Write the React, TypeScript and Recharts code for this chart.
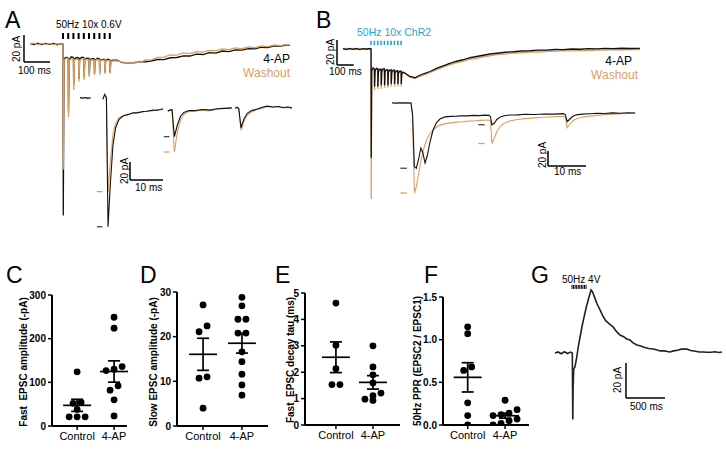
import React from 'react';
import { LineChart, Line, XAxis, YAxis, ReferenceLine, ScatterChart, Scatter } from 'recharts';

const FONT = '"Liberation Sans", Arial, Helvetica, sans-serif';
const BLACK = '#111111';
const ORANGE = '#d9a062';
const CYAN = '#2aa6cc';

// ---------------- Panel A : main trace (ms, pA) ----------------
const aT = [0, 15, 30, 45, 60, 75, 90, 105, 118, 126,
  127, 128, 131, 139, 147, 148, 151, 159, 167, 168, 171, 179, 187, 188, 191, 199, 207, 208, 211, 219,
  227, 228, 231, 239, 247, 248, 251, 259, 267, 268, 271, 279, 287, 288, 291, 299, 307, 308, 311, 319,
  335, 355, 375, 390, 405, 425, 445, 465, 490, 515, 540, 565, 590, 615, 640, 665, 690, 715, 740, 765,
  790, 815, 840, 865, 890, 915, 940, 965, 985, 1000];
const aWash = [0, 0.6, -0.4, 0.5, -0.3, 0.4, -0.5, 0.3, -0.2, 0.2,
  0.2, -93, -12, -10.5, -11, -54, -12.5, -10.8, -11, -34, -12, -11.2, -11.5, -28, -12.5, -11, -11, -26.7, -12, -11.4,
  -11.5, -24.4, -12.3, -11.8, -12, -23, -12.5, -11.5, -11.8, -23, -12.6, -12, -12, -22, -12.8, -12.2, -12.2, -22, -13, -12.5,
  -12.6, -13.5, -13.6, -14.5, -13.2, -13.4, -11.8, -11.9, -10.0, -9.8, -8.0, -8.3, -6.6, -7.2, -5.6, -6.0, -4.8, -4.9, -3.6, -4.2,
  -2.9, -3.5, -2.2, -2.7, -1.5, -2.0, -0.7, -1.2, -0.3, -0.6];
const a4AP = [0.3, -0.4, 0.6, -0.5, 0.4, -0.3, 0.5, -0.6, 0.3, 0,
  0, -127, -11, -9.8, -10.5, -50, -11.5, -9.5, -10, -31, -11, -10, -10.3, -26, -11.2, -9.8, -10, -24, -11.5, -10.5,
  -10.6, -23, -11.6, -10.8, -11, -22, -12, -10.6, -11, -21, -12, -11.5, -11.5, -21, -12.3, -11.2, -11.6, -21, -12.6, -12,
  -12.0, -13.8, -14.0, -14.2, -13.8, -13.0, -13.2, -12.6, -11.5, -11.6, -10.2, -10.0, -8.8, -8.9, -7.5, -7.8, -6.4, -6.8, -5.2, -5.6,
  -4.3, -4.5, -3.4, -3.6, -2.4, -2.7, -1.4, -1.6, -0.8, -0.9];
const aPulses = [127, 147, 167, 187, 207, 227, 247, 267, 287, 307];

// ---------------- Panel A : inset ----------------
const aInT = [0, 0.8, 1.6, 2.4, 3.2, 3.6,
  6.9, 7.5, 8.0, 8.5, 9.2, 10.0, 10.8, 11.8, 13, 14.5, 16, 17.5, 19, 20.5, 22, 23.5, 25.2, 25.8,
  26.6, 27.3, 27.9, 28.6, 29.5, 30.5, 31.5, 33, 35, 37, 39.4, 41.5, 43.5, 46, 46.5,
  47, 47.6, 48.1, 48.8, 49.7, 50.7, 52, 53.5, 55, 56.7, 58.5, 60, 61.5, 63, 64.2];
const aInWash = [0, 0.8, -0.5, 0.6, -0.3, null,
  -1, 3.5, 0, -104, -70, -40, -28, -22, -20, -18, -17.5, -15.5, -15.8, -14, -14.5, -12.8, -13, null,
  -15, -13, -14, -60, -38, -24, -18, -15, -14.5, -13.5, -14, -12.5, -12, -11.5, null,
  -11, -10, -12, -36, -26, -19, -15.5, -13, -11.5, -9.5, -10.5, -9.5, -11, -10.5, -11.5];
const aIn4AP = [0.4, -0.3, 0.5, -0.4, 0.3, null,
  -1.5, 4, 0.5, -143, -95, -52, -33, -24, -20, -18.5, -16.5, -16.5, -15, -14.8, -13.5, -13.6, -12, null,
  -14.5, -13.5, -13, -43, -30, -20, -16, -14, -14, -12.8, -13.5, -12, -11.5, -11, null,
  -11.5, -10.5, -11.5, -33, -23, -17, -14, -12.5, -10.5, -9, -10, -9.5, -10.5, -10, -11];
const aInPulses = [8.2, 28.5];

// ---------------- Panel B : main trace ----------------
const bT = [0, 20, 40, 60, 80, 100, 120, 140, 160, 167,
  168, 169, 172, 180, 188, 189, 192, 200, 208, 209, 212, 220, 228, 229, 232, 240, 248, 249, 252, 260,
  268, 269, 272, 280, 288, 289, 292, 300, 308, 309, 312, 320, 328, 329, 332, 340, 348, 349, 352, 360,
  380, 400, 431, 460, 490, 521, 560, 600, 640, 680, 719, 760, 800, 840, 880, 922, 970, 1020, 1070, 1120,
  1170, 1220, 1270, 1317, 1370, 1420, 1470, 1520, 1570, 1620, 1670, 1719, 1778];
const bWash = [0, 0.5, -0.4, 0.3, -0.5, 0.4, -0.3, 0.5, -0.2, 0,
  0, -120, -17, -15.5, -16.5, -33, -18, -16, -16.2, -32, -18.2, -16.8, -16.8, -32, -18.5, -16.5, -16.5, -31, -18.3, -17,
  -17, -31, -18.8, -17.2, -17, -30, -19, -17.5, -17.5, -30, -19.2, -17.8, -18, -30, -19.5, -18.2, -18.2, -30, -20, -19,
  -20.5, -22.5, -23.5, -22, -20.5, -19, -16.5, -14.5, -12.5, -11, -9.8, -8.2, -7.4, -6.2, -5.4, -4.5, -4, -3.2, -3, -2.4,
  -2.4, -1.8, -1.9, -1.3, -1.5, -1, -1.2, -0.8, -0.9, -0.5, -0.7, -0.4, -0.5];
const b4AP = [0.3, -0.4, 0.5, -0.3, 0.4, -0.5, 0.3, -0.2, 0.4, 0,
  0, -87, -17.5, -15, -16, -30, -17.5, -15.5, -15.8, -30, -17.8, -16.2, -16.2, -29, -18, -16, -16, -29, -17.8, -16.6,
  -16.5, -29, -18.2, -16.8, -16.6, -28, -18.5, -17, -17, -28, -18.8, -17.4, -17.5, -28, -19, -17.8, -17.8, -28, -19.5, -18.5,
  -20, -22, -23, -21, -19.5, -18, -15.5, -13.5, -11.5, -9.8, -8.6, -7, -6, -5, -4, -3.4, -2.6, -2.2, -1.6, -1.4,
  -0.9, -0.9, -0.4, -0.5, 0, -0.2, 0.3, 0.1, 0.5, 0.3, 0.6, 0.4, 0.5];
const bPulses = [168, 188, 208, 228, 248, 268, 288, 308, 328, 348];

// ---------------- Panel B : inset ----------------
const bInT = [0, 1, 2, 3, 4, 5.0, 5.4, 5.9, 6.4, 7.0, 7.6, 8.1, 8.7, 9.3, 10, 10.8,
  11.7, 12.7, 14, 15.5, 17, 18.5, 20, 21.5, 23, 24.5, 25.5, 25.9, 26.3, 26.9, 27.6, 28.5, 29.5, 31, 33, 35,
  37.5, 40, 42.5, 45.1, 45.6, 46.1, 46.7, 47.5, 48.5, 50, 52, 54, 56, 58, 60, 62, 64];
const bInWash = [0, 0.5, -0.3, 0.4, -0.2, 0, -15, -120, -112, -95, -78, -66, -55, -47, -41, -36,
  -32, -29.5, -27.5, -26.5, -25.5, -25, -24.2, -24, -23.2, -23, -22.8, -24, -54, -47, -38, -31, -27, -24, -22, -20.8,
  -19.8, -19, -18.3, -17.8, -19, -33, -29, -24, -21, -19, -17.5, -16.5, -15.5, -15, -14.2, -14, -13.3];
const bIn4AP = [0.3, -0.3, 0.4, -0.2, 0.3, 0, -15, -85, -87, -75, -60, -66, -80, -70, -52, -36,
  -26, -21, -18.5, -17.8, -17.5, -17, -17.2, -16.5, -16.8, -16.2, -16.5, -18, -29, -27, -22, -18.5, -17, -16, -15.8, -15,
  -15.3, -14.6, -14.8, -14.2, -15.5, -25, -22, -18, -15.8, -14.8, -14.3, -13.6, -14, -13.2, -13.6, -13, -13.3];
const bInPulses = [5.3, 25.8];

// ---------------- Panel G ----------------
const gT = [0, 40, 80, 120, 160, 200, 222, 228, 232, 240, 256, 280, 300, 325, 350, 375, 400, 430, 462,
  480, 510, 540, 577, 610, 650, 700, 744, 790, 833, 880, 920, 962, 1000, 1051, 1100, 1150, 1200, 1256,
  1300, 1350, 1400, 1474, 1520, 1570, 1620, 1692, 1740, 1800, 1850, 1897, 1950, 2000, 2050, 2100, 2141];
const gV = [0, 0.6, -0.4, 0.7, -0.3, 0.5, 0, -38, -20, -9, -8, -2, 4, 10, 16, 21, 26, 31, 36,
  35, 31.5, 28, 24.6, 21.5, 18.5, 16.5, 14.9, 12.2, 10.3, 9.3, 8, 7.4, 5.8, 4.6, 4, 3.2, 2.6, 2.3,
  1.8, 1.2, 1.2, 0.6, 1.2, 1.6, 2.2, 2.3, 1.4, 1, 0.6, 0.6, 0.4, 0.4, 0.7, 0.3, 0.6];
const gPulses = [218, 238, 258, 278, 298, 318, 338, 358, 378, 398];

// ---------------- Panels C-F (scatter) ----------------
const groups = ['Control', '4-AP'];
const cControl = [124, 54, 52, 38, 21, 21, 21];
const cAP = [249, 224, 136, 130, 127, 92, 82, 60, 23];
const dControl = [27.1, 22.4, 21.1, 11.0, 10.7, 4.0];
const dAP = [28.8, 26.9, 23.9, 23.9, 20.8, 20.8, 16.6, 14.4, 11.6, 9.2, 6.9];
const eControl = [4.62, 3.02, 2.13, 1.53, 1.53];
const eAP = [3.0, 2.2, 1.9, 1.59, 1.21, 1.11, 0.98, 0.93];
const fControl = [1.15, 1.07, 0.68, 0.64, 0.26, 0.11, 0.0];
const fAP = [0.29, 0.18, 0.14, 0.12, 0.11, 0.07, 0.05, 0.02, 0.0];

// ---------------- helpers ----------------
const zip = (t: number[], v: (number | null)[]) => t.map((x, i) => ({ t: x, v: v[i] }));

type Seg = { x1: number; y1: number; x2: number; y2: number; color: string; w: number };

function scaleBar(t: number, i: number, dt: number, di: number): Seg[] {
  return [
    { x1: t, y1: i, x2: t, y2: i + di, color: '#000', w: 1.5 },
    { x1: t, y1: i, x2: t + dt, y2: i, color: '#000', w: 1.5 },
  ];
}
function stimTicks(pulses: number[], lo: number, hi: number, color: string, w: number): Seg[] {
  return pulses.map((p) => ({ x1: p, y1: lo, x2: p, y2: hi, color, w }));
}
function peakDashes(t: number[], v: (number | null)[], pulses: number[], color: string): Seg[] {
  return pulses.map((p) => {
    let m = 0;
    t.forEach((x, i) => {
      const y = v[i];
      if (x >= p - 1 && x <= p + 4 && y !== null && y < m) m = y;
    });
    return { x1: p - 3.1, y1: m, x2: p - 1.4, y2: m, color, w: 1.3 };
  });
}

type Series = { data: { t: number; v: number | null }[]; color: string; w: number };

function TracePanel(props: { box: number[]; xd: number[]; yd: number[]; series: Series[]; segs: Seg[] }) {
  const { box, xd, yd, series, segs } = props;
  return (
    <div style={{ position: 'absolute', left: box[0], top: box[1] }}>
      <LineChart width={box[2]} height={box[3]} margin={{ top: 0, right: 0, bottom: 0, left: 0 }}>
        <XAxis type="number" dataKey="t" domain={xd} hide allowDataOverflow />
        <YAxis type="number" domain={yd} hide allowDataOverflow />
        {series.map((s, i) => (
          <Line key={i} data={s.data} dataKey="v" type="linear" stroke={s.color} strokeWidth={s.w}
            dot={false} activeDot={false} isAnimationActive={false} connectNulls={false} />
        ))}
        {segs.map((g, i) => (
          <ReferenceLine key={'s' + i} segment={[{ x: g.x1, y: g.y1 }, { x: g.x2, y: g.y2 }]}
            stroke={g.color} strokeWidth={g.w} ifOverflow="visible" />
        ))}
      </LineChart>
    </div>
  );
}

function swarm(values: number[], cat: number, pxX: number, pxY: number) {
  const sorted = [...values].sort((a, b) => b - a);
  const clusters: number[][] = [];
  for (const v of sorted) {
    const c = clusters[clusters.length - 1];
    if (c && (c[0] - v) * pxY < 6.5) c.push(v);
    else clusters.push([v]);
  }
  const out: { x: number; y: number }[] = [];
  for (const c of clusters) {
    const asc = [...c].sort((a, b) => a - b);
    asc.forEach((v, i) => out.push({ x: cat + ((i - (asc.length - 1) / 2) * 8) / pxX, y: v }));
  }
  return out;
}

function stats(v: number[]) {
  const n = v.length;
  const m = v.reduce((a, b) => a + b, 0) / n;
  const sd = Math.sqrt(v.reduce((a, b) => a + (b - m) * (b - m), 0) / (n - 1));
  return { m, sem: sd / Math.sqrt(n) };
}

const dotShape = (p: any) => <circle cx={p.cx} cy={p.cy} r={3.4} fill="#000" />;

function DotPanel(props: {
  box: number[]; yAxisW: number; xAxisH: number; mt: number; mr: number;
  xd: number[]; yMax: number; yTicks: number[]; fmt: (v: number) => string;
  ctrl: number[]; ap: number[];
}) {
  const { box, yAxisW, xAxisH, mt, mr, xd, yMax, yTicks, fmt, ctrl, ap } = props;
  const plotW = box[2] - yAxisW - mr;
  const plotH = box[3] - mt - xAxisH;
  const pxX = plotW / (xd[1] - xd[0]);
  const pxY = plotH / yMax;
  const pts = [...swarm(ctrl, 1, pxX, pxY), ...swarm(ap, 2, pxX, pxY)];
  const segs: Seg[] = [];
  [ctrl, ap].forEach((vals, k) => {
    const c = k + 1;
    const { m, sem } = stats(vals);
    const hw = 14 / pxX;
    const cw = 6 / pxX;
    segs.push({ x1: c - hw, y1: m, x2: c + hw, y2: m, color: '#000', w: 1.7 });
    segs.push({ x1: c, y1: m - sem, x2: c, y2: m + sem, color: '#000', w: 1.7 });
    segs.push({ x1: c - cw, y1: m + sem, x2: c + cw, y2: m + sem, color: '#000', w: 1.7 });
    segs.push({ x1: c - cw, y1: m - sem, x2: c + cw, y2: m - sem, color: '#000', w: 1.7 });
  });
  return (
    <div style={{ position: 'absolute', left: box[0], top: box[1] }}>
      <ScatterChart width={box[2]} height={box[3]} margin={{ top: mt, right: mr, bottom: 0, left: 0 }}>
        <XAxis type="number" dataKey="x" domain={xd} ticks={[1, 2]} interval={0} allowDataOverflow
          tickFormatter={(v: number) => groups[v - 1]} height={xAxisH}
          axisLine={{ stroke: '#000', strokeWidth: 2 }} tickLine={{ stroke: '#000', strokeWidth: 1.5 }} tickSize={4}
          tick={{ fill: '#000', fontSize: 11, fontFamily: FONT }} />
        <YAxis type="number" dataKey="y" domain={[0, yMax]} ticks={yTicks} interval={0} allowDataOverflow
          tickFormatter={fmt} width={yAxisW}
          axisLine={{ stroke: '#000', strokeWidth: 2 }} tickLine={{ stroke: '#000', strokeWidth: 1.5 }} tickSize={4}
          tick={{ fill: '#000', fontSize: 10, fontWeight: 'bold', fontFamily: FONT }} />
        <Scatter data={pts} shape={dotShape} isAnimationActive={false} />
        {segs.map((g, i) => (
          <ReferenceLine key={i} segment={[{ x: g.x1, y: g.y1 }, { x: g.x2, y: g.y2 }]}
            stroke={g.color} strokeWidth={g.w} ifOverflow="visible" />
        ))}
      </ScatterChart>
    </div>
  );
}

function Txt(p: { x: number; y: number; s: number; c?: string; a?: string; b?: boolean; r?: boolean; children: string }) {
  const common = {
    fontSize: p.s, fill: p.c || '#000', fontFamily: FONT, fontWeight: p.b ? 'bold' : 'normal',
    textAnchor: (p.a || 'start') as any, style: { whiteSpace: 'pre' as const },
  };
  if (p.r) {
    return <text {...common} textAnchor="middle" transform={`translate(${p.x},${p.y}) rotate(-90)`}>{p.children}</text>;
  }
  return <text x={p.x} y={p.y} {...common}>{p.children}</text>;
}

export default function App() {
  const aSegs: Seg[] = [
    ...scaleBar(-23.1, -13.33, 100, 20),
    ...stimTicks(aPulses, 3.7, 8.15, '#000', 2),
  ];
  const aInSegs: Seg[] = [
    ...scaleBar(15.15, -91.1, 10, 20),
    ...peakDashes(aInT, aIn4AP, aInPulses, '#444'),
    ...peakDashes(aInT, aInWash, aInPulses, ORANGE),
  ];
  const bSegs: Seg[] = [
    ...scaleBar(-35.9, -12.8, 100, 20),
    ...stimTicks(bPulses, 3.2, 6.6, CYAN, 1.6),
  ];
  const bInSegs: Seg[] = [
    ...scaleBar(41.05, -84, 10, 20),
    ...peakDashes(bInT, bIn4AP, bInPulses, '#444'),
    ...peakDashes(bInT, bInWash, bInPulses, ORANGE),
  ];
  const gSegs: Seg[] = [
    ...scaleBar(910, -25.7, 500, 20),
    ...stimTicks(gPulses, 36.6, 38.9, '#000', 1),
  ];

  return (
    <div style={{ position: 'absolute', left: 0, top: 0, width: 726, height: 455, background: '#fff', overflow: 'hidden' }}>
      <TracePanel box={[10, 25, 290, 205]} xd={[-76.9, 1038.5]} yd={[-137.8, 14.07]}
        series={[{ data: zip(aT, a4AP), color: BLACK, w: 1.3 }, { data: zip(aT, aWash), color: ORANGE, w: 1.3 }]}
        segs={aSegs} />
      <TracePanel box={[75, 85, 225, 150]} xd={[-1.515, 66.67]} yd={[-152.2, 14.44]}
        series={[{ data: zip(aInT, aInWash), color: ORANGE, w: 1.1 }, { data: zip(aInT, aIn4AP), color: BLACK, w: 1.1 }]}
        segs={aInSegs} />
      <TracePanel box={[325, 30, 320, 180]} xd={[-107.8, 1808.4]} yd={[-128.8, 15.2]}
        series={[{ data: zip(bT, bWash), color: ORANGE, w: 1.3 }, { data: zip(bT, b4AP), color: BLACK, w: 1.3 }]}
        segs={bSegs} />
      <TracePanel box={[385, 95, 255, 110]} xd={[-1.84, 65.26]} yd={[-136, 10.67]}
        series={[{ data: zip(bInT, bInWash), color: ORANGE, w: 1.1 }, { data: zip(bInT, bIn4AP), color: BLACK, w: 1.1 }]}
        segs={bInSegs} />
      <TracePanel box={[545, 280, 180, 145]} xd={[-128.2, 2179.5]} yd={[-41.14, 41.71]}
        series={[{ data: zip(gT, gV), color: '#222', w: 1.6 }]}
        segs={gSegs} />

      <DotPanel box={[0, 285, 135, 160]} yAxisW={52} xAxisH={19} mt={10} mr={8} xd={[0.32, 2.35]}
        yMax={300} yTicks={[0, 100, 200, 300]} fmt={(v) => String(v)} ctrl={cControl} ap={cAP} />
      <DotPanel box={[135, 282, 140, 163]} yAxisW={42} xAxisH={19} mt={10} mr={7} xd={[0.33, 2.67]}
        yMax={30} yTicks={[0, 10, 20, 30]} fmt={(v) => String(v)} ctrl={dControl} ap={dAP} />
      <DotPanel box={[265, 283, 145, 162]} yAxisW={40} xAxisH={20} mt={10} mr={10} xd={[0.165, 2.73]}
        yMax={5} yTicks={[0, 1, 2, 3, 4, 5]} fmt={(v) => String(v)} ctrl={eControl} ap={eAP} />
      <DotPanel box={[395, 287, 145, 158]} yAxisW={48} xAxisH={20} mt={10} mr={11} xd={[0.34, 2.64]}
        yMax={1.5} yTicks={[0, 0.5, 1, 1.5]} fmt={(v) => v.toFixed(1)} ctrl={fControl} ap={fAP} />

      <svg width={726} height={455} style={{ position: 'absolute', left: 0, top: 0, pointerEvents: 'none' }}>
        <Txt x={5} y={28} s={23}>A</Txt>
        <Txt x={56} y={28} s={10}>50Hz 10x 0.6V</Txt>
        <Txt x={20} y={49} s={10} r>20 pA</Txt>
        <Txt x={18} y={74} s={10}>100 ms</Txt>
        <Txt x={290} y={63} s={12} a="end">4-AP</Txt>
        <Txt x={290} y={77} s={12} a="end" c={ORANGE}>Washout</Txt>
        <Txt x={128} y={171} s={10} r>20 pA</Txt>
        <Txt x={135} y={191} s={10}>10 ms</Txt>

        <Txt x={316} y={28} s={23}>B</Txt>
        <Txt x={357} y={36} s={10.5} c={CYAN}>50Hz 10x ChR2</Txt>
        <Txt x={334} y={52} s={10} r>20 pA</Txt>
        <Txt x={329} y={75} s={10}>100 ms</Txt>
        <Txt x={632} y={65} s={12} a="end">4-AP</Txt>
        <Txt x={638} y={79} s={12} a="end" c={ORANGE}>Washout</Txt>
        <Txt x={546} y={155} s={10} r>20 pA</Txt>
        <Txt x={554} y={175} s={10}>10 ms</Txt>

        <Txt x={6} y={283} s={23}>C</Txt>
        <Txt x={140} y={283} s={23}>D</Txt>
        <Txt x={275} y={283} s={23}>E</Txt>
        <Txt x={424} y={283} s={23}>F</Txt>
        <Txt x={531} y={283} s={23}>G</Txt>
        <Txt x={27} y={362} s={10} b r>{'Fast  EPSC amplitude (-pA)'}</Txt>
        <Txt x={157} y={362} s={10} b r>Slow EPSC amplitude (-pA)</Txt>
        <Txt x={294} y={360} s={10} b r>{'Fast  EPSC decay tau (ms)'}</Txt>
        <Txt x={421} y={361} s={10} b r>50Hz PPR (EPSC2 / EPSC1)</Txt>

        <Txt x={562} y={283} s={10}>50Hz 4V</Txt>
        <Txt x={621} y={380} s={10} r>20 pA</Txt>
        <Txt x={630} y={410} s={10}>500 ms</Txt>
      </svg>
    </div>
  );
}
